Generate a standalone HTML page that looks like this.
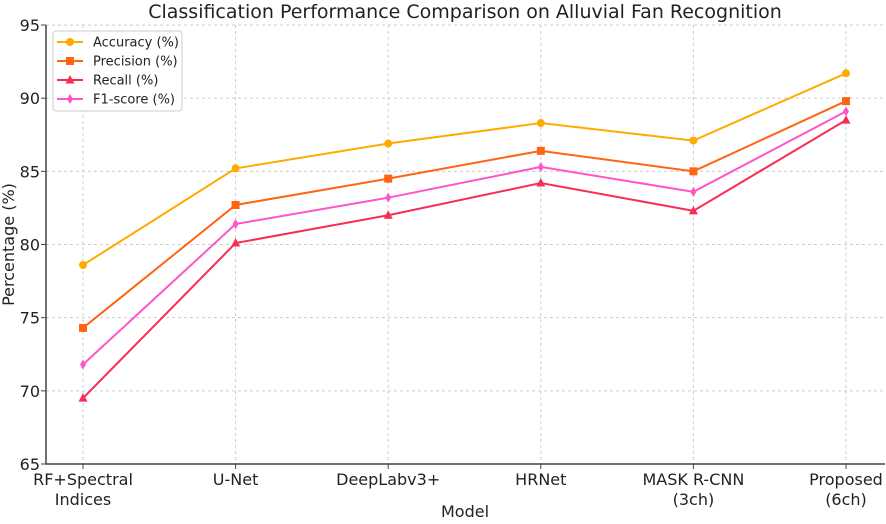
<!DOCTYPE html>
<html><head><meta charset="utf-8"><style>
body{margin:0;background:#fff;font-family:"DejaVu Sans","Liberation Sans",sans-serif}
svg text{font-family:"DejaVu Sans","Liberation Sans",sans-serif}
</style></head><body>
<svg id="c" width="886" height="520" xmlns="http://www.w3.org/2000/svg"></svg>
<script>
const categories=[["RF+Spectral","Indices"],["U-Net"],["DeepLabv3+"],["HRNet"],["MASK R-CNN","(3ch)"],["Proposed","(6ch)"]];
const accuracy=[78.6,85.2,86.9,88.3,87.1,91.7];
const precision=[74.3,82.7,84.5,86.4,85.0,89.8];
const recall=[69.5,80.1,82.0,84.2,82.3,88.5];
const f1=[71.8,81.4,83.2,85.3,83.6,89.1];
const yTicks=[65,70,75,80,85,90,95];
const seriesNames=["Accuracy (%)","Precision (%)","Recall (%)","F1-score (%)"];
const svg=document.getElementById('c');const NS='http://www.w3.org/2000/svg';
const L=46,R=885,T=25,B=464;
const x=i=>83+i*(846-83)/(categories.length-1);
const y=v=>B-(v-65)/30*(B-T);
function el(t,a,p){const e=document.createElementNS(NS,t);for(const k in a)e.setAttribute(k,a[k]);(p||svg).appendChild(e);return e;}
const title=el('text',{x:465,y:18,'text-anchor':'middle','font-size':19,fill:'#222'});title.textContent='Classification Performance Comparison on Alluvial Fan Recognition';

yTicks.forEach(v=>{const g=el('line',{x1:L,x2:R,y1:y(v),y2:y(v),stroke:'#ccc','stroke-dasharray':'3,3','stroke-width':1});

el('line',{x1:L-5,x2:L,y1:y(v),y2:y(v),stroke:'#444'});
const t=el('text',{x:L-6,y:y(v)+6,'text-anchor':'end','font-size':16,fill:'#222'});t.textContent=v;
});
categories.forEach((c,i)=>{const g=el('line',{x1:x(i),x2:x(i),y1:T,y2:B,stroke:'#ccc','stroke-dasharray':'3,3'});

el('line',{x1:x(i),x2:x(i),y1:B,y2:B+5,stroke:'#444'});
c.forEach((s,j)=>{const t=el('text',{x:x(i),y:B+21+j*20,'text-anchor':'middle','font-size':16,fill:'#222'});t.textContent=s;
});});
const ax=el('path',{d:`M${L},${T}V${B}H${R}`,fill:'none',stroke:'#444','stroke-width':1.5});

const yl=el('text',{transform:`translate(14,${(T+B)/2}) rotate(-90)`,'text-anchor':'middle','font-size':16,fill:'#222'});yl.textContent='Percentage (%)';

const xl=el('text',{x:465,y:517,'text-anchor':'middle','font-size':16,fill:'#222'});xl.textContent='Model';

const colors=['#FFAA00','#FF6414','#F72D55','#FF55C8'];const shapes=['circle','square','triangle','diamond'];
function marker(px,py,s,c,parent){
 if(s==='circle')return el('circle',{cx:px,cy:py,r:4,fill:c},parent);
 if(s==='square')return el('rect',{x:px-4,y:py-4,width:8,height:8,fill:c},parent);
 if(s==='triangle')return el('path',{d:`M${px},${py-5}L${px+4.5},${py+3.5}L${px-4.5},${py+3.5}Z`,fill:c},parent);
 return el('path',{d:`M${px},${py-5}L${px+3},${py}L${px},${py+5}L${px-3},${py}Z`,fill:c},parent);}
[accuracy,precision,recall,f1].forEach((d,k)=>{const g=el('g',{});
 
 el('polyline',{points:d.map((v,i)=>x(i)+','+y(v)).join(' '),fill:'none',stroke:colors[k],'stroke-width':2},g);
 d.forEach((v,i)=>{const m=marker(x(i),y(v),shapes[k],colors[k],g);});});
const lg=el('g',{});
el('rect',{x:53,y:31,width:129,height:80,rx:3,fill:'#fff',stroke:'#ccc'},lg);
seriesNames.forEach((n,k)=>{const yy=42+k*19;const e=el('g',{},lg);
 
 el('line',{x1:57,x2:83,y1:yy,y2:yy,stroke:colors[k],'stroke-width':2},e);marker(70,yy,shapes[k],colors[k],e);
 const t=el('text',{x:93,y:yy+4.5,'font-size':13,fill:'#222'},e);t.textContent=n;});
</script></body></html>
